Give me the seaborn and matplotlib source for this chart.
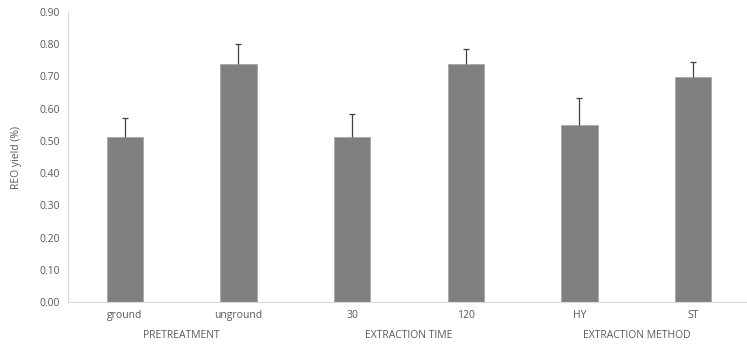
import pandas as pd
import numpy as np
import matplotlib.pyplot as plt
import matplotlib.transforms as mtransforms
import seaborn as sns

# Données
categories = ['ground', 'unground', '30', '120', 'HY', 'ST']
rendement  = [0.512, 0.738, 0.512, 0.738, 0.549, 0.697]
erreurs    = [0.060, 0.062, 0.072, 0.047, 0.084, 0.048]
groupes    = ['PRETREATMENT', 'EXTRACTION TIME', 'EXTRACTION METHOD']
yticks     = [0.0, 0.1, 0.2, 0.3, 0.4, 0.5, 0.6, 0.7, 0.8, 0.9]

df = pd.DataFrame({'cat': categories, 'val': rendement, 'err': erreurs})

sns.set_theme(style="white")
plt.rcParams['font.family'] = ['Open Sans', 'DejaVu Sans']

gris_txt = '#595959'
fig = plt.figure(figsize=(7.47, 3.44), dpi=100)
ax = fig.add_axes([0.091, 0.122, 0.913, 0.843])

sns.barplot(data=df, x='cat', y='val', order=categories, color='#808080',
            saturation=1, width=0.32, edgecolor='#a6a6a6', linewidth=0.6,
            errorbar=None, ax=ax)

# Barres d'erreur (partie haute uniquement)
pos = np.arange(len(categories))
_, caps, _ = ax.errorbar(pos, df['val'], yerr=[np.zeros(len(df)), df['err']],
                         fmt='none', ecolor='#404040', elinewidth=0.9,
                         capsize=2.5, capthick=0.9)
caps[0].set_visible(False)  # pas de trait en bas

ax.set_ylim(0, 0.9)
ax.set_xlim(-0.5, len(categories) - 0.5)
ax.set_yticks(yticks)
ax.set_yticklabels([f'{v:.2f}' for v in yticks])
ax.tick_params(axis='both', length=0, labelsize=7.5, colors=gris_txt, pad=6)
ax.set_xlabel('')
ax.set_ylabel('REO yield (%)', fontsize=7.5, color=gris_txt, labelpad=12)

for s in ['top', 'right']:
    ax.spines[s].set_visible(False)
for s in ['left', 'bottom']:
    ax.spines[s].set_color('#d9d9d9')
    ax.spines[s].set_linewidth(0.8)

# Étiquettes de groupes sous l'axe
trans = mtransforms.blended_transform_factory(ax.transData, ax.transAxes)
for i, g in enumerate(groupes):
    ax.text(2 * i + 0.5, -0.114, g, transform=trans, ha='center', va='center',
            fontsize=7.5, color=gris_txt)

fig.savefig('out.png', dpi=100)
